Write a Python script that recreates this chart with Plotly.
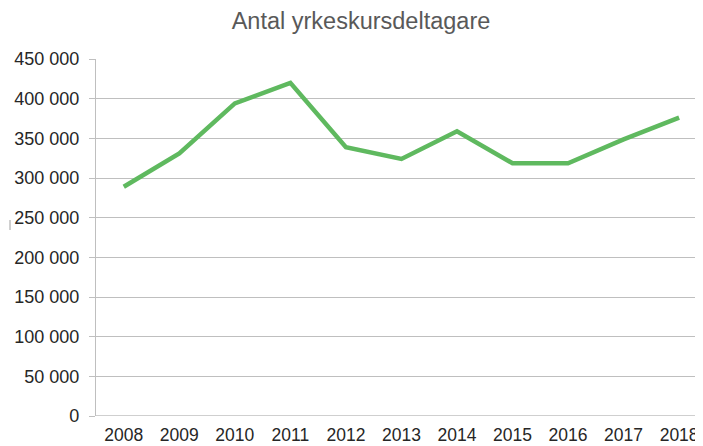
import plotly.graph_objects as go

years = ["2008", "2009", "2010", "2011", "2012", "2013", "2014", "2015", "2016", "2017", "2018"]
participants = [289000, 331000, 394000, 420000, 338700, 324000, 359000, 318500, 318500, 348700, 376000]
y_tick_vals = [0, 50000, 100000, 150000, 200000, 250000, 300000, 350000, 400000, 450000]
y_tick_text = ["0", "50 000", "100 000", "150 000", "200 000", "250 000", "300 000", "350 000", "400 000", "450 000"]

# The page body adds an 8 px offset; the figure is sized to fill the rest of the window.
W, H = 695, 438

fig = go.Figure()
fig.add_trace(go.Scatter(
    x=list(range(len(years))), y=participants, mode="lines",
    line=dict(color="rgb(95,185,95)", width=4.5),
    hoverinfo="skip", showlegend=False,
))

fig.update_layout(
    width=W, height=H,
    margin=dict(l=88, r=0, t=51, b=30, autoexpand=False),
    paper_bgcolor="white", plot_bgcolor="white",
    title=dict(text="Antal yrkeskursdeltagare", x=353/W, xanchor="center",
               y=1 - 13/H, yanchor="middle", yref="container", xref="container",
               font=dict(family="Liberation Sans, Arial", size=23.5, color="#595959")),
    font=dict(family="Liberation Sans, Arial", color="#262626"),
)
fig.update_xaxes(
    range=[-0.5, 10.43], tickmode="array", tickvals=list(range(len(years))), ticktext=years,
    showgrid=False, zeroline=False, showline=False, ticks="", automargin=False,
    tickfont=dict(size=17.5, color="#262626"), ticklabelstandoff=6,
)
fig.update_yaxes(
    range=[0, 450000], tickmode="array", tickvals=y_tick_vals, ticktext=y_tick_text,
    showgrid=True, gridcolor="#bfbfbf", gridwidth=1.3, zeroline=False, automargin=False,
    showline=True, linecolor="#bfbfbf", linewidth=1.3,
    ticks="outside", ticklen=6, tickcolor="#bfbfbf", tickwidth=1.3,
    tickfont=dict(size=18, color="#262626"), ticklabelstandoff=6,
)
fig.add_shape(type="line", xref="paper", yref="y", x0=0, x1=1, y0=0, y1=0,
              line=dict(color="#bfbfbf", width=1.3))
# small stray tick mark at the far left of the reference image
fig.add_shape(type="line", xref="paper", yref="paper",
              x0=-86/(W - 88), x1=-86/(W - 88),
              y0=(408 - 212) / (408 - 51), y1=(408 - 222) / (408 - 51),
              line=dict(color="#a0a0a0", width=1))

fig.write_html("out.html")
